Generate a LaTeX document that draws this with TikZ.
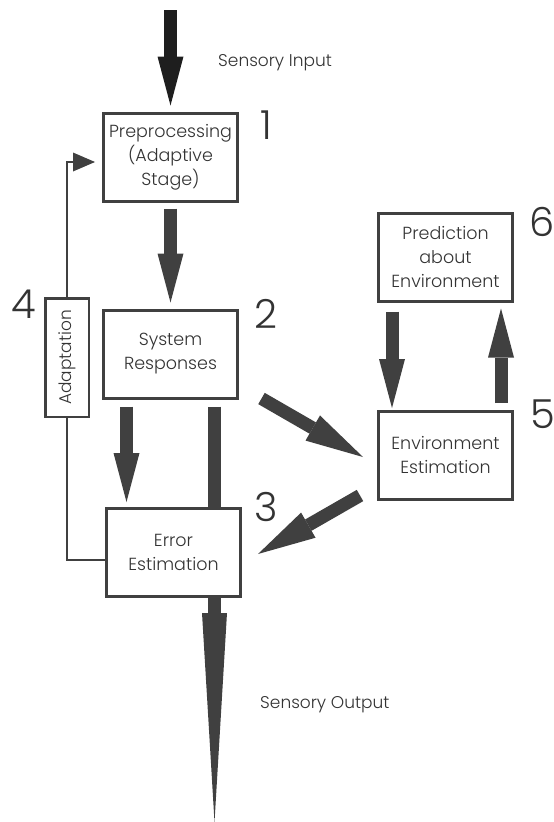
\documentclass[tikz,border=0pt]{standalone}
\usepackage{fontspec}
\setmainfont{Poppins}[UprightFont = * Light]
\usepackage{xcolor,graphicx}
\usetikzlibrary{calc, positioning, arrows.meta}
\definecolor{ink}{HTML}{404040}
\definecolor{inkdark}{HTML}{1E1E1E}
\definecolor{txt}{HTML}{333333}

\begin{document}
\begin{tikzpicture}[x = 1pt, y = -1pt,
  blk/.style = {draw = ink, line width = 3pt, minimum width = 134pt, minimum height = 88pt, align = center, text = txt, font = \fontsize{17.5}{24}\selectfont},
  num/.style = {inner sep = 0pt, text = txt, font = \fontsize{40}{40}\selectfont},
  lbl/.style = {anchor = west, inner sep = 0pt, text = txt, font = \fontsize{17}{20}\selectfont},
  fat/.style = {draw = ink, line width = 13pt, -{Triangle[length = 49pt, width = 26pt, line width = 0pt]}},
  fatd/.style = {draw = ink, line width = 13pt, -{Triangle[length = 58pt, width = 29pt, line width = 0pt]}},
  fb/.style = {draw = ink, line width = 2.5pt}]
\useasboundingbox (0,0) rectangle (554,822);
\node[blk] (pre) at (170.5,157) {Preprocessing\\(Adaptive\\Stage)};
\node[blk, below = 106pt of pre] (sys) {System\\Responses};
\node[blk] (err) at (173.5,552.5) {Error\\Estimation};
\node[blk] (env) at (445.5,455) {Environment\\Estimation};
\node[blk, above = 107pt of env] (pred) {Prediction\\about\\Environment};
\node[draw = ink, line width = 2.5pt, minimum width = 43.5pt, minimum height = 118.5pt, inner sep = 0pt, text = txt, font = \fontsize{17}{20}\selectfont] (adapt) at (67,357.5) {\rotatebox{90}{Adaptation}};
\node[num] (n1) at (266,125) {1};
\node[num] (n2) at (266,314) {2};
\node[num] (n3) at (266,507) {3};
\node[num] (n4) at (24,304) {4};
\node[num] (n5) at (543,414) {5};
\node[num] (n6) at (542,222) {6};
\node[lbl] (sin) at (218,63) {Sensory Input};
\node[lbl] (sout) at (260,705) {Sensory Output};
\coordinate (in) at (170.5,10);
\coordinate (out) at (214.5,822);
\coordinate (d1s) at (261.5,398.5);
\coordinate (d1e) at (363,457);
\coordinate (d2s) at (360,495.5);
\coordinate (d2e) at (258,554);
\draw[fat, draw = inkdark, shorten >= 6pt] (in) -- (pre.north);
\draw[fat, shorten <= 6pt, shorten >= 6pt] (pre) -- (sys);
\draw[fat, shorten <= 7pt, shorten >= 5pt] ([xshift = -44pt]sys.south) -- ([xshift = -44pt]sys.south |- err.north);
\draw[ink, line width = 13pt, shorten <= 7pt] ([xshift = 44pt]sys.south) -- (err.north -| out);
\draw[ink, line width = 13pt, -{Triangle[length = 209pt, width = 25pt, line width = 0pt]}] (err.south -| out) -- (out);
\draw[fat, shorten <= 9pt, shorten >= 1.5pt] ([xshift = -53.5pt]pred.south) -- ([xshift = -53.5pt]env.north);
\draw[fat, shorten <= 6.5pt, shorten >= 6pt] ([xshift = 55.5pt]env.north) -- ([xshift = 55.5pt]pred.south);
\foreach \i/\j in {d1s/d1e, d2s/d2e}{
\draw[fatd] (\i) -- (\j);
}
\draw[fb] ([yshift = -7.5pt]err.west) -| (adapt.south);
\draw[fb, -{Triangle[length = 22pt, width = 19pt, line width = 0pt]}, shorten >= 7pt] (adapt.north) |- ([yshift = -5pt]pre.west);
\end{tikzpicture}
\end{document}
